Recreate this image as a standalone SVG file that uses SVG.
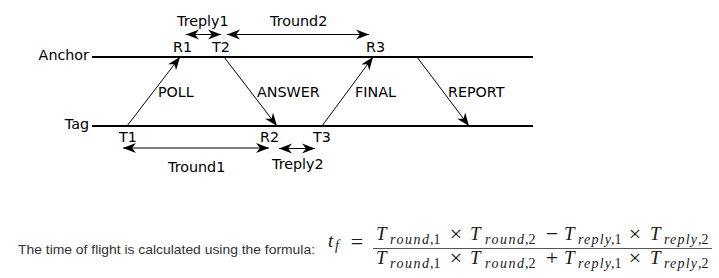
<svg xmlns="http://www.w3.org/2000/svg" width="719" height="278" viewBox="0 0 719 278">
<style>
.lbl{font-family:"DejaVu Sans",sans-serif;font-size:14.3px;fill:#000}
.tl{stroke:#000;stroke-width:2;fill:none}
.ar{stroke:#000;stroke-width:1;fill:none;marker-end:url(#ah)}
.da{stroke:#000;stroke-width:1;fill:none;marker-start:url(#ah);marker-end:url(#ah)}
.m{font-family:"Liberation Serif","DejaVu Serif",serif;fill:#1a1a1a}
.mi{font-style:italic}
.T{font-size:19px}
.s{font-size:14px}
.op{font-size:22px}
.txt{font-family:"Liberation Sans",Arial,sans-serif;font-size:13px;fill:#333}
</style>
<defs>
<marker id="ah" markerUnits="userSpaceOnUse" markerWidth="16" markerHeight="12" viewBox="-13 -6 14 12" refX="0" refY="0" orient="auto-start-reverse">
<path d="M0,0 L-13,-5 L-9,0 L-13,5 Z" fill="#000"/>
</marker>
</defs>
<g id="timelines">
<g id="anchor"><line class="tl" x1="92" y1="57" x2="533" y2="57"/><text class="lbl" x="89" y="60" text-anchor="end">Anchor</text></g>
<g id="tag"><line class="tl" x1="92" y1="126" x2="533" y2="126"/><text class="lbl" x="89" y="129" text-anchor="end">Tag</text></g>
</g>
<g id="labels">
<text class="lbl" x="173" y="52">R1</text>
<text class="lbl" x="212" y="52">T2</text>
<text class="lbl" x="366" y="52">R3</text>
<text class="lbl" x="119" y="142">T1</text>
<text class="lbl" x="260" y="142">R2</text>
<text class="lbl" x="313" y="142">T3</text>
<text class="lbl" x="177" y="26">Treply1</text>
<text class="lbl" x="270" y="26">Tround2</text>
<text class="lbl" x="168" y="172">Tround1</text>
<text class="lbl" x="272" y="169">Treply2</text>
</g>
<g id="connectors">
<line class="ar" x1="127" y1="126" x2="180" y2="57"/>
<line class="ar" x1="224" y1="57" x2="277" y2="126"/>
<line class="ar" x1="322" y1="126" x2="373" y2="57"/>
<line class="ar" x1="417" y1="57" x2="469" y2="126"/>
<line class="da" x1="186" y1="34.5" x2="221" y2="34.5"/>
<line class="da" x1="227" y1="34.5" x2="369" y2="34.5"/>
<line class="da" x1="123" y1="148" x2="269" y2="148"/>
<line class="da" x1="279" y1="148.5" x2="315" y2="148.5"/>
<text class="lbl" x="158" y="96.5">POLL</text>
<text class="lbl" x="257" y="96.5">ANSWER</text>
<text class="lbl" x="355" y="96.5">FINAL</text>
<text class="lbl" x="448" y="96.5">REPORT</text>
</g>
<g id="formula">
<text class="txt" x="18" y="254" textLength="297" lengthAdjust="spacingAndGlyphs">The time of flight is calculated using the formula:</text>
<text class="m mi T" x="328" y="247">t</text>
<text class="m mi s" x="335" y="250">f</text>
<text class="m op" x="357" y="249" text-anchor="middle">=</text>
<line x1="373" y1="248.5" x2="712" y2="248.5" stroke="#555" stroke-width="1"/>
<g id="num">
<text class="m mi T" x="376" y="240">T</text>
<text class="m mi s" x="390" y="243.5" textLength="39" lengthAdjust="spacing">round</text>
<text class="m s" x="430" y="243.5">,1</text>
<text class="m op" x="456" y="241" text-anchor="middle">×</text>
<text class="m mi T" x="470" y="240">T</text>
<text class="m mi s" x="485" y="243.5" textLength="39" lengthAdjust="spacing">round</text>
<text class="m s" x="525" y="243.5">,2</text>
<text class="m op" x="552" y="241" text-anchor="middle">−</text>
<text class="m mi T" x="564" y="240">T</text>
<text class="m mi s" x="578" y="243.5" textLength="33" lengthAdjust="spacing">reply</text>
<text class="m s" x="611" y="243.5">,1</text>
<text class="m op" x="635" y="241" text-anchor="middle">×</text>
<text class="m mi T" x="650" y="240">T</text>
<text class="m mi s" x="664" y="243.5" textLength="33" lengthAdjust="spacing">reply</text>
<text class="m s" x="698" y="243.5">,2</text>
</g>
<g id="den">
<text class="m mi T" x="376" y="264">T</text>
<text class="m mi s" x="390" y="267.5" textLength="39" lengthAdjust="spacing">round</text>
<text class="m s" x="430" y="267.5">,1</text>
<text class="m op" x="456" y="265" text-anchor="middle">×</text>
<text class="m mi T" x="470" y="264">T</text>
<text class="m mi s" x="485" y="267.5" textLength="39" lengthAdjust="spacing">round</text>
<text class="m s" x="525" y="267.5">,2</text>
<text class="m op" x="552" y="265" text-anchor="middle">+</text>
<text class="m mi T" x="564" y="264">T</text>
<text class="m mi s" x="578" y="267.5" textLength="33" lengthAdjust="spacing">reply</text>
<text class="m s" x="611" y="267.5">,1</text>
<text class="m op" x="635" y="265" text-anchor="middle">×</text>
<text class="m mi T" x="650" y="264">T</text>
<text class="m mi s" x="664" y="267.5" textLength="33" lengthAdjust="spacing">reply</text>
<text class="m s" x="698" y="267.5">,2</text>
</g>
</g>
</svg>
